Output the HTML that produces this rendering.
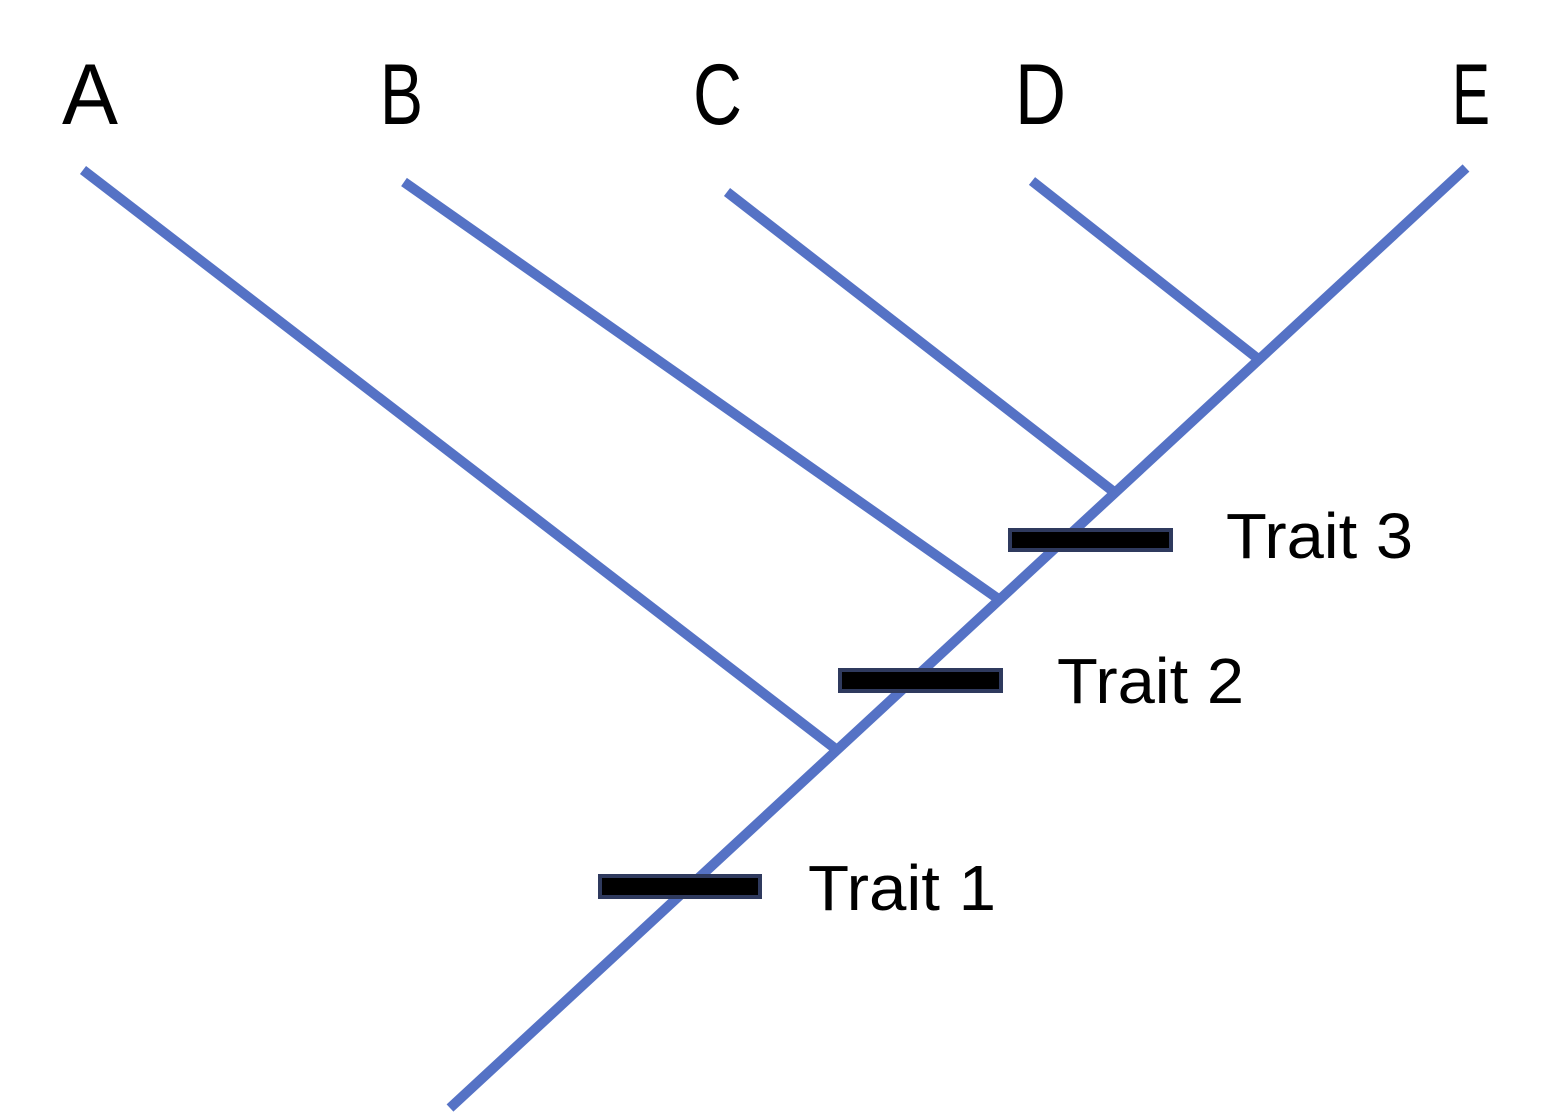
<!DOCTYPE html>
<html><head><style>html,body{margin:0;padding:0;background:#fff}svg{display:block}</style></head>
<body>
<svg width="1558" height="1116" viewBox="0 0 1558 1116" xmlns="http://www.w3.org/2000/svg">
<g stroke="#5572C5" stroke-width="10" fill="none">
<line x1="450" y1="1108" x2="1466" y2="168"/>
<line x1="83" y1="170" x2="837" y2="750"/>
<line x1="404" y1="182" x2="997" y2="598"/>
<line x1="727" y1="192" x2="1114" y2="492"/>
<line x1="1032" y1="181" x2="1257" y2="358"/>
</g>
<g fill="#000" stroke="#2F3A5E" stroke-width="4">
<rect x="600" y="876" width="160" height="21"/>
<rect x="840" y="670" width="161" height="21"/>
<rect x="1010" y="530" width="161" height="20"/>
</g>
<g font-family="Liberation Sans, sans-serif" fill="#000">
<text x="62" y="124" font-size="86" textLength="56" lengthAdjust="spacingAndGlyphs">A</text>
<text x="380" y="124" font-size="86" textLength="43" lengthAdjust="spacingAndGlyphs">B</text>
<text x="693" y="124" font-size="86" textLength="49" lengthAdjust="spacingAndGlyphs">C</text>
<text x="1015" y="124" font-size="86" textLength="51" lengthAdjust="spacingAndGlyphs">D</text>
<text x="1452" y="124" font-size="86" textLength="38" lengthAdjust="spacingAndGlyphs">E</text>
<text x="1226" y="558" font-size="64" textLength="187" lengthAdjust="spacingAndGlyphs">Trait 3</text>
<text x="1057" y="703" font-size="64" textLength="187" lengthAdjust="spacingAndGlyphs">Trait 2</text>
<text x="808" y="910" font-size="64" textLength="188" lengthAdjust="spacingAndGlyphs">Trait 1</text>
</g>
</svg>
</body></html>
